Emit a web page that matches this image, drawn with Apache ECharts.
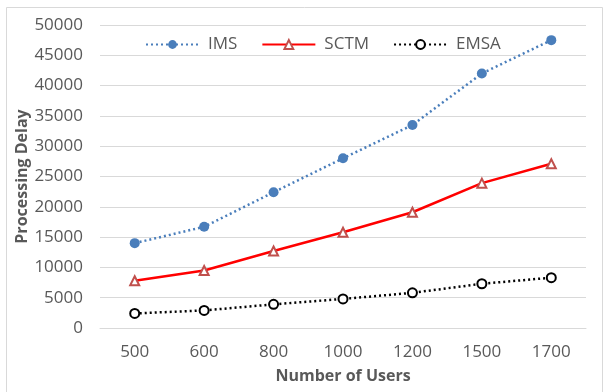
<!DOCTYPE html>
<html>
<head>
<meta charset="utf-8">
<script src="https://cdn.jsdelivr.net/npm/echarts@6/dist/echarts.min.js"></script>
<style>html,body{margin:0;padding:0;background:#fff;}#c{width:603px;height:392px;}</style>
</head>
<body>
<div id="c"></div>
<script>
var categories = ['500', '600', '800', '1000', '1200', '1500', '1700'];
var imsValues = [14000, 16700, 22400, 28000, 33500, 42000, 47500];
var sctmValues = [7800, 9500, 12700, 15800, 19100, 23900, 27100];
var emsaValues = [2400, 2900, 3900, 4800, 5800, 7300, 8300];
var yTicks = { min: 0, max: 50000, interval: 5000 };

var FONT = '"Open Sans", "Liberation Sans", sans-serif';
var chart = echarts.init(document.getElementById('c'));
chart.setOption({
  animation: false,
  backgroundColor: '#fff',
  textStyle: { fontFamily: FONT },
  graphic: [{
    type: 'rect', left: 4, top: 5,
    shape: { width: 596, height: 385 },
    style: { fill: 'none', stroke: '#d9d9d9', lineWidth: 1 },
    silent: true, z: -1
  }],
  grid: { left: 100, right: 17, top: 25, bottom: 64 },
  legend: {
    left: 140, top: 31,
    itemWidth: 53, itemHeight: 11, itemGap: 24,
    textStyle: { fontSize: 17, color: '#595959', fontFamily: FONT, padding: [0, 0, 0, 4] },
    data: ['IMS', 'SCTM', 'EMSA']
  },
  xAxis: {
    type: 'category',
    data: categories,
    boundaryGap: true,
    axisLine: { show: true, lineStyle: { color: '#d9d9d9' } },
    axisTick: { show: false },
    axisLabel: { fontSize: 17, color: '#595959', margin: 16, fontFamily: FONT },
    name: 'Number of Users',
    nameLocation: 'middle',
    nameGap: 40,
    nameMoveOverlap: false,
    nameTextStyle: { fontSize: 16, fontWeight: 'bold', color: '#595959', fontFamily: FONT }
  },
  yAxis: {
    type: 'value',
    min: yTicks.min, max: yTicks.max, interval: yTicks.interval,
    axisLine: { show: false },
    axisTick: { show: false },
    splitLine: { lineStyle: { color: '#d9d9d9' } },
    axisLabel: { fontSize: 17, color: '#595959', margin: 17, fontFamily: FONT,
      formatter: function (v) { return String(v); } },
    name: 'Processing Delay',
    nameLocation: 'middle',
    nameGap: 70,
    nameMoveOverlap: false,
    nameTextStyle: { fontSize: 16, fontWeight: 'bold', color: '#595959', fontFamily: FONT }
  },
  series: [
    {
      name: 'IMS', type: 'line', data: imsValues,
      symbol: 'circle', symbolSize: 10,
      lineStyle: { color: '#4a7ebb', width: 2.5, type: [2, 3] },
      itemStyle: { color: '#4a7ebb', borderColor: '#4a7ebb', borderWidth: 0 }
    },
    {
      name: 'SCTM', type: 'line', data: sctmValues,
      symbol: 'triangle', symbolSize: 9,
      lineStyle: { color: '#ff0000', width: 2.5 },
      itemStyle: { color: '#ffffff', borderColor: '#c0504d', borderWidth: 2 }
    },
    {
      name: 'EMSA', type: 'line', data: emsaValues,
      symbol: 'circle', symbolSize: 9,
      lineStyle: { color: '#000000', width: 2.5, type: [2, 3] },
      itemStyle: { color: '#ffffff', borderColor: '#000000', borderWidth: 2 }
    }
  ]
});
</script>
</body>
</html>
